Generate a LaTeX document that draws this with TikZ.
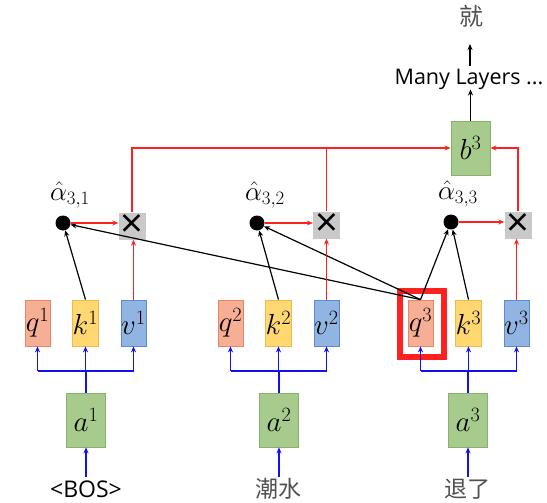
\RequirePackage{fix-cm}
\documentclass[tikz,border=0pt]{standalone}
\usepackage{fontspec}
\setmainfont{Open Sans}
\newfontfamily\cjk{Noto Sans CJK SC}
\usetikzlibrary{arrows.meta}
\definecolor{qfill}{HTML}{F6AE94}
\definecolor{qdraw}{HTML}{E8866A}
\definecolor{kfill}{HTML}{FFD872}
\definecolor{kdraw}{HTML}{F2B84B}
\definecolor{vfill}{HTML}{92B4E3}
\definecolor{vdraw}{HTML}{5B8BD0}
\definecolor{gfill}{HTML}{A6CB8C}
\definecolor{gdraw}{HTML}{86B26C}
\definecolor{mulgray}{HTML}{C9C9C9}
\definecolor{redln}{HTML}{FF2020}
\definecolor{blueln}{HTML}{1010F0}
\definecolor{cjkgray}{HTML}{505050}
\tikzset{
  vecbox/.style={minimum width=25pt, minimum height=46pt, inner sep=0pt, draw, line width=0.8pt,
    font=\fontsize{29}{29}\selectfont},
  qbox/.style={vecbox, fill=qfill, draw=qdraw},
  kbox/.style={vecbox, fill=kfill, draw=kdraw},
  vbox/.style={vecbox, fill=vfill, draw=vdraw},
  gbox/.style={minimum width=39pt, minimum height=54pt, inner sep=0pt, draw=gdraw, fill=gfill,
    line width=0.8pt, font=\fontsize{29}{29}\selectfont},
  adot/.style={circle, fill=black, minimum size=15pt, inner sep=0pt},
  mulbox/.style={fill=mulgray, minimum width=27pt, minimum height=27pt, inner sep=0pt,
    font=\fontsize{40}{40}\selectfont},
  alab/.style={font=\fontsize{27}{27}\selectfont, inner sep=0pt},
  rline/.style={draw=redln, line width=1.3pt},
  rarrow/.style={rline, -{Stealth[length=6pt,width=5pt]}},
  bline/.style={draw=blueln, line width=1.6pt},
  barrow/.style={bline, -{Stealth[length=6pt,width=5pt]}},
  karrow/.style={draw=black, line width=1.2pt, -{Stealth[length=6pt,width=5pt]}},
  wlab/.style={font=\fontsize{23}{23}\selectfont, inner sep=0pt},
  clab/.style={font=\cjk\fontsize{23}{23}\selectfont, inner sep=0pt, text=cjkgray},
}
\begin{document}
\begin{tikzpicture}[x=1pt,y=-1pt]
\useasboundingbox (0,0) rectangle (547,503);
% highlight around q3
\node[draw=redln, line width=6pt, minimum width=44pt, minimum height=66pt, inner sep=0pt] (hl) at (422,324) {};
% vector boxes
\node[qbox] (q1) at (37.5,323) {$q^1$};
\node[kbox] (k1) at (85.5,323) {$k^1$};
\node[vbox] (v1) at (133.5,323) {$v^1$};
\node[qbox] (q2) at (230.5,323) {$q^2$};
\node[kbox] (k2) at (278.5,323) {$k^2$};
\node[vbox] (v2) at (326.5,323) {$v^2$};
\node[qbox] (q3) at (420.5,323) {$q^3$};
\node[kbox] (k3) at (468.5,323) {$k^3$};
\node[vbox] (v3) at (516.5,323) {$v^3$};
% inputs
\node[gbox] (a1) at (86,420) {$a^1$};
\node[gbox] (a2) at (279,420) {$a^2$};
\node[gbox] (a3) at (468,420) {$a^3$};
\node[wlab] (w1) at (86,489) {<BOS>};
\node[clab] (w2) at (278,489) {潮水};
\node[clab] (w3) at (467,489) {退了};
\coordinate (s1) at (86,477);
\coordinate (s2) at (279,477);
\coordinate (s3) at (468,477);
\draw[barrow] (s1) -- (a1);
\draw[barrow] (s2) -- (a2);
\draw[barrow] (s3) -- (a3);
% blue splits
\coordinate (h1) at (86,371);
\coordinate (h2) at (279,371);
\coordinate (h3) at (468,371);
\draw[bline] (a1) -- (h1);
\draw[bline] (a2) -- (h2);
\draw[bline] (a3) -- (h3);
\draw[bline] (h1 -| q1) -- (h1 -| v1);
\draw[bline] (h2 -| q2) -- (h2 -| v2);
\draw[bline] (h3 -| q3) -- (h3 -| v3);
\foreach \n/\h in {q1/h1,k1/h1,v1/h1,q2/h2,k2/h2,v2/h2,q3/h3,k3/h3,v3/h3}
  \draw[barrow] (\h -| \n) -- (\n);
% attention dots
\node[adot] (d1) at (63,223) {};
\node[adot] (d2) at (257,223) {};
\node[adot] (d3) at (451,222) {};
\node[alab] (l1) at (70,195) {$\hat{\alpha}_{3,1}$};
\node[alab] (l2) at (265,195) {$\hat{\alpha}_{3,2}$};
\node[alab] (l3) at (458,194) {$\hat{\alpha}_{3,3}$};
% multiply boxes
\node[mulbox] (m1) at (132,226) {×};
\node[mulbox] (m2) at (326.5,225) {×};
\node[mulbox] (m3) at (518,225) {×};
% output
\node[gbox] (b3) at (470.5,148) {$b^3$};
\node[wlab, font=\fontsize{21.5}{21.5}\selectfont] (ml) at (469,79) {Many Layers ...};
\node[clab, font=\cjk\fontsize{24}{24}\selectfont] (out) at (471,16) {就};
\draw[karrow] (b3) -- (b3.north |- ml.south);
\coordinate (mt) at (470,66);
\coordinate (ot) at (470,44);
\draw[karrow] (mt) -- (ot);
% black attention lines
\draw[karrow] (k1.north) -- (d1);
\draw[karrow] (k2.north) -- (d2);
\draw[karrow] (k3.north) -- (d3);
\draw[karrow] (q3.north) -- (d1);
\draw[karrow] (q3.north) -- (d2);
\draw[karrow] (q3.north) -- (d3);
% red weighting
\draw[rarrow] (d1) -- (d1 -| m1.west);
\draw[rarrow] (d2) -- (d2 -| m2.west);
\draw[rarrow] (d3) -- (d3 -| m3.west);
\draw[rarrow] (v1.north) -- (v1.north |- m1.south);
\draw[rarrow] (v2.north) -- (v2.north |- m2.south);
\draw[rarrow] (v3.north) -- (v3.north |- m3.south);
\draw[rarrow] (m1.north) |- (b3.west);
\draw[rline] (m2.north) -- (m2.north |- b3.west);
\draw[rarrow] (m3.north) |- (b3.east);
\end{tikzpicture}
\end{document}
